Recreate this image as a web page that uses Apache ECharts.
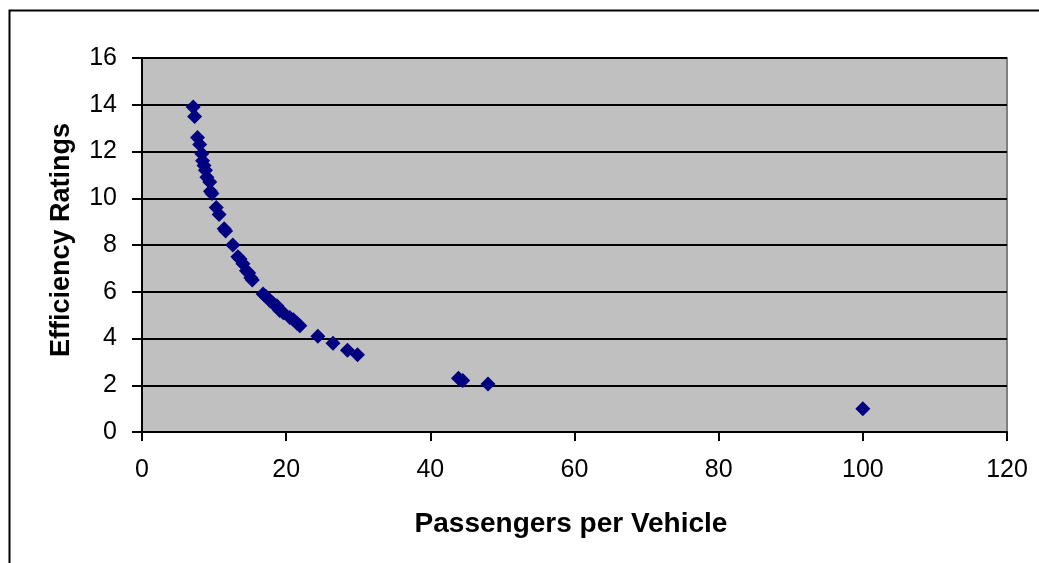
<!DOCTYPE html>
<html>
<head>
<meta charset="utf-8">
<script src="https://cdn.jsdelivr.net/npm/echarts@6/dist/echarts.min.js"></script>
<style>
html,body{margin:0;padding:0;background:#fff;}
#c{width:1039px;height:563px;}
</style>
</head>
<body>
<div id="c"></div>
<script>
const passengers = [7.1, 7.3, 7.7, 8.0, 8.3, 8.4, 8.6, 8.8, 9.0, 9.4, 9.5, 9.7, 10.3, 10.7, 11.4, 11.6, 12.6, 13.3, 13.6, 14.0, 14.5, 14.8, 15.1, 15.3, 16.8, 17.2, 17.8, 18.2, 18.7, 19.1, 19.6, 20.5, 21.0, 21.5, 21.9, 24.4, 26.5, 28.5, 29.9, 43.9, 44.5, 48.0, 100];
const efficiency = [13.9, 13.5, 12.6, 12.3, 11.9, 11.6, 11.4, 11.2, 10.9, 10.7, 10.3, 10.2, 9.6, 9.3, 8.7, 8.6, 8.0, 7.5, 7.4, 7.2, 6.9, 6.8, 6.6, 6.5, 5.9, 5.8, 5.6, 5.5, 5.4, 5.2, 5.1, 4.9, 4.8, 4.65, 4.55, 4.1, 3.8, 3.5, 3.3, 2.3, 2.2, 2.05, 1.0];
const xTitle = 'Passengers per Vehicle';
const yTitle = 'Efficiency Ratings';

const FONT = 'Arial, "Liberation Sans", sans-serif';
const points = passengers.map((x, i) => [x, efficiency[i]]);

const chart = echarts.init(document.getElementById('c'), null, {renderer: 'canvas'});
chart.setOption({
  animation: false,
  backgroundColor: '#ffffff',
  graphic: [{
    type: 'rect',
    shape: {x: 9.5, y: 10.5, width: 1100, height: 700},
    style: {fill: 'none', stroke: '#000', lineWidth: 2},
    silent: true
  }, {
    type: 'text',
    x: 571, y: 524,
    style: {text: xTitle, font: 'bold 28px ' + FONT, fill: '#000', textAlign: 'center', textVerticalAlign: 'middle'},
    silent: true
  }, {
    type: 'text',
    x: 62, y: 240,
    rotation: Math.PI / 2,
    style: {text: yTitle, font: 'bold 27px ' + FONT, fill: '#000', textAlign: 'center', textVerticalAlign: 'middle'},
    silent: true
  }],
  grid: {
    left: 142, top: 58, right: 32, bottom: 131,
    show: true,
    backgroundColor: '#C0C0C0',
    borderColor: '#808080',
    borderWidth: 2
  },
  xAxis: {
    type: 'value',
    min: 0, max: 120, interval: 20,
    axisLine: {show: true, onZero: false, lineStyle: {color: '#000', width: 2}},
    axisTick: {show: true, length: 9, inside: false, lineStyle: {color: '#000', width: 2}},
    axisLabel: {color: '#000', fontSize: 25, fontFamily: FONT, margin: 26},
    splitLine: {show: false}
  },
  yAxis: {
    type: 'value',
    min: 0, max: 16, interval: 2,
    axisLine: {show: true, onZero: false, lineStyle: {color: '#000', width: 2}},
    axisTick: {show: true, length: 10, inside: false, lineStyle: {color: '#000', width: 2}},
    axisLabel: {color: '#000', fontSize: 25, fontFamily: FONT, margin: 25},
    splitLine: {show: true, lineStyle: {color: '#000', width: 2}}
  },
  series: [{
    type: 'scatter',
    data: points,
    symbol: 'diamond',
    symbolSize: 15,
    itemStyle: {color: '#000080', opacity: 1}
  }]
});
</script>
</body>
</html>
